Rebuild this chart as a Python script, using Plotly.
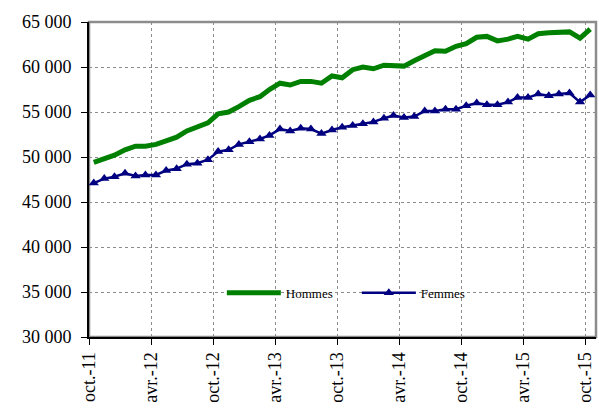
import pandas as pd
import plotly.graph_objects as go

# monthly series, oct. 2011 -> oct. 2015
MONTHS = pd.date_range("2011-10-01", "2015-10-01", freq="MS")

HOMMES = [
    49400, 49800, 50200, 50800, 51200, 51200, 51400, 51800, 52200, 52900,
    53400, 53800, 54800, 55000, 55600, 56300, 56700, 57500, 58200, 58000,
    58400, 58400, 58200, 59000, 58800, 59700, 60000, 59800, 60200, 60100,
    60100, 60700, 61200, 61800, 61750, 62300, 62600, 63300, 63400, 62900,
    63100, 63400, 63100, 63700, 63800, 63900, 63900, 63200, 64200,
]
FEMMES = [
    47100, 47600, 47800, 48200, 47900, 48000, 48000, 48500, 48700, 49200,
    49300, 49700, 50600, 50800, 51400, 51700, 52000, 52400, 53100, 52900,
    53200, 53100, 52600, 53000, 53300, 53500, 53700, 53900, 54300, 54600,
    54400, 54500, 55100, 55100, 55300, 55300, 55700, 56000, 55800, 55800,
    56100, 56600, 56600, 57000, 56800, 57000, 57100, 56100, 56900,
]

TICK_DATES = pd.date_range("2011-10-01", "2015-10-01", freq="6MS")
TICK_LABELS = ["oct.-11", "avr.-12", "oct.-12", "avr.-13", "oct.-13",
               "avr.-14", "oct.-14", "avr.-15", "oct.-15"]
Y_TICKS = [30000, 35000, 40000, 45000, 50000, 55000, 60000, 65000]

# points sit in the middle of each month (Excel "between tick marks")
x = MONTHS + pd.Timedelta(days=14)

FONT = "Times New Roman"

fig = go.Figure()

fig.add_trace(go.Scatter(
    x=x, y=HOMMES, name="Hommes", mode="lines",
    line=dict(color="#008000", width=5),
))
fig.add_trace(go.Scatter(
    x=x, y=FEMMES, name="Femmes", mode="lines+markers",
    line=dict(color="#000080", width=2.5),
    marker=dict(symbol="triangle-up", size=9, color="#000080"),
))

# grey frame on top / right, like the Excel plot area border
fig.add_shape(type="rect", xref="paper", yref="paper", x0=0, x1=1, y0=0, y1=1,
              line=dict(color="#8c8c8c", width=2.5), layer="below")

fig.update_layout(
    width=599, height=409,
    margin=dict(l=89, r=3, t=22, b=72),
    paper_bgcolor="white", plot_bgcolor="white",
    separators=", ",
    font=dict(family=FONT, color="black", size=18),
    legend=dict(
        orientation="h", x=0.262, y=0.14, xanchor="left", yanchor="middle",
        font=dict(family=FONT, size=13), bgcolor="rgba(0,0,0,0)",
        entrywidth=66, entrywidthmode="pixels", itemwidth=54,
    ),
)

fig.update_xaxes(
    type="date",
    range=[MONTHS[0], MONTHS[-1] + pd.DateOffset(months=1)],
    tickvals=TICK_DATES, ticktext=TICK_LABELS, tickangle=-90,
    ticks="outside", ticklen=6, tickcolor="black",
    showline=True, linecolor="black", linewidth=2,
    showgrid=True, gridcolor="#8c8c8c", griddash="dot", gridwidth=1,
    tickfont=dict(family=FONT, size=18),
)
fig.update_yaxes(
    range=[30000, 65000], tickvals=Y_TICKS, tickformat=",d",
    ticks="outside", ticklen=6, tickcolor="black",
    showline=True, linecolor="black", linewidth=2,
    showgrid=True, gridcolor="#8c8c8c", griddash="dot", gridwidth=1,
    tickfont=dict(family=FONT, size=18), ticklabelstandoff=6,
    zeroline=False,
)

# page margin would shift the chart by 8px
fig.write_html("out.html", config={"displayModeBar": False},
               post_script="document.body.style.margin='0';")
